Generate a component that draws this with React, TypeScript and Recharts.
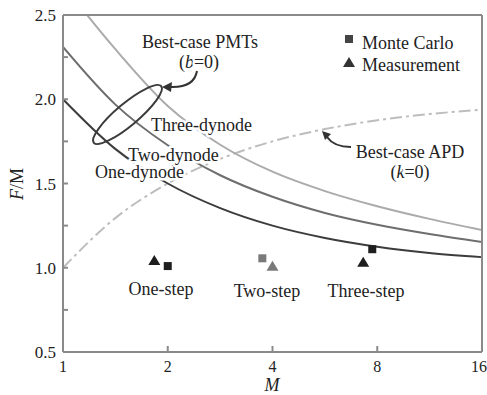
import { ComposedChart, Line, Scatter, XAxis, YAxis, Cell } from "recharts";

// x ticks (M, log2 spaced) and y ticks (F/M, with minor ticks)
const xTicks = [1, 2, 4, 8, 16];
const yTicks = [0.5, 0.75, 1.0, 1.25, 1.5, 1.75, 2.0, 2.25, 2.5];
const yLabels = [0.5, 1.0, 1.5, 2.0, 2.5];

const curveM = [1, 1.41, 2, 2.83, 4, 5.66, 8, 11.3, 16];
const oneDynodeF = [2.0, 1.707, 1.5, 1.354, 1.25, 1.177, 1.125, 1.088, 1.063];
const twoDynodeF = [2.31, 1.971, 1.727, 1.549, 1.421, 1.325, 1.255, 1.2, 1.153];
const threeDynodeF = [2.68, 2.3, 1.96, 1.73, 1.57, 1.455, 1.365, 1.29, 1.224];
const apdF = [1.0, 1.293, 1.5, 1.646, 1.75, 1.823, 1.875, 1.912, 1.938];

// markers
const monteCarloM = [2, 3.74, 7.74];
const monteCarloF = [1.01, 1.056, 1.11];
const measurementM = [1.83, 4, 7.29];
const measurementF = [1.04, 1.006, 1.03];
const markerColors = ["#1e1e1e", "#7a7a7a", "#1e1e1e"];

const zip = (ms: number[], fs: number[]) => ms.map((m, i) => ({ m, f: fs[i] }));

const FONT = "'Liberation Serif', 'DejaVu Serif', serif";
const AXIS = "#8a8a8a";
const FS = 18;
const TICK_FS = 16;

function XTick(props: any) {
  const { x, y, payload } = props;
  const v = payload.value;
  return (
    <g>
      {v !== 1 && v !== 16 && <line x1={x} y1={y} x2={x} y2={y - 6} stroke={AXIS} strokeWidth={2} />}
      <text x={v === 16 ? x - 3 : x} y={y + 20} textAnchor="middle" fontFamily={FONT} fontSize={TICK_FS} fill="#222">
        {v}
      </text>
    </g>
  );
}

function YTick(props: any) {
  const { x, y, payload } = props;
  const v = payload.value;
  const major = yLabels.includes(v);
  return (
    <g>
      {v !== 0.5 && v !== 2.5 && <line x1={x} y1={y} x2={x + 5} y2={y} stroke={AXIS} strokeWidth={2} />}
      {major && (
        <text x={x - 7} y={y + 6} textAnchor="end" fontFamily={FONT} fontSize={TICK_FS + 1} fill="#222">
          {v.toFixed(1)}
        </text>
      )}
    </g>
  );
}

const Square = (props: any) => {
  const { cx, cy, fill } = props;
  return <rect x={cx - 4} y={cy - 4} width={8} height={8} fill={fill} />;
};
const Tri = (props: any) => {
  const { cx, cy, fill } = props;
  return <polygon points={`${cx},${cy - 6} ${cx + 6},${cy + 4} ${cx - 6},${cy + 4}`} fill={fill} />;
};

function Label({ x, y, children, anchor = "start" }: any) {
  return (
    <text
      x={x}
      y={y}
      textAnchor={anchor}
      fontFamily={FONT}
      fontSize={FS}
      fill="#222"
      stroke="#fff"
      strokeWidth={5}
      strokeLinejoin="round"
      style={{ paintOrder: "stroke" }}
    >
      {children}
    </text>
  );
}

export default function App() {
  return (
    <div style={{ position: "absolute", left: 0, top: 0, width: 487, height: 395, background: "#fff" }}>
      <ComposedChart width={487} height={395} margin={{ top: 14, right: 4, bottom: 42, left: 62 }}>
        <XAxis
          xAxisId="b"
          type="number"
          dataKey="m"
          scale="log"
          domain={[1, 16]}
          ticks={xTicks}
          interval={0}
          allowDataOverflow
          height={1}
          tickSize={0}
          tickMargin={0}
          tickLine={false}
          axisLine={{ stroke: AXIS, strokeWidth: 2 }}
          tick={<XTick />}
        />
        <XAxis
          xAxisId="t"
          orientation="top"
          type="number"
          scale="log"
          domain={[1, 16]}
          height={1}
          tick={false}
          tickLine={false}
          axisLine={{ stroke: AXIS, strokeWidth: 2 }}
        />
        <YAxis
          yAxisId="l"
          type="number"
          domain={[0.5, 2.5]}
          ticks={yTicks}
          interval={0}
          allowDataOverflow
          width={1}
          tickSize={0}
          tickMargin={0}
          tickLine={false}
          axisLine={{ stroke: AXIS, strokeWidth: 2 }}
          tick={<YTick />}
        />
        <YAxis
          yAxisId="r"
          orientation="right"
          type="number"
          domain={[0.5, 2.5]}
          width={1}
          tick={false}
          tickLine={false}
          axisLine={{ stroke: AXIS, strokeWidth: 2 }}
        />
        <Line xAxisId="b" yAxisId="l" data={zip(curveM, apdF)} dataKey="f" type="monotone" stroke="#bdbdbd" strokeWidth={2} strokeDasharray="12 4 3 4" dot={false} isAnimationActive={false} />
        <Line xAxisId="b" yAxisId="l" data={zip(curveM, threeDynodeF)} dataKey="f" type="monotone" stroke="#ababab" strokeWidth={2} dot={false} isAnimationActive={false} />
        <Line xAxisId="b" yAxisId="l" data={zip(curveM, twoDynodeF)} dataKey="f" type="monotone" stroke="#6e6e6e" strokeWidth={2} dot={false} isAnimationActive={false} />
        <Line xAxisId="b" yAxisId="l" data={zip(curveM, oneDynodeF)} dataKey="f" type="monotone" stroke="#3c3c3c" strokeWidth={2} dot={false} isAnimationActive={false} />
        <Scatter xAxisId="b" yAxisId="l" data={zip(monteCarloM, monteCarloF)} dataKey="f" shape={Square} isAnimationActive={false}>
          {monteCarloM.map((_, i) => (
            <Cell key={i} fill={markerColors[i]} />
          ))}
        </Scatter>
        <Scatter xAxisId="b" yAxisId="l" data={zip(measurementM, measurementF)} dataKey="f" shape={Tri} isAnimationActive={false}>
          {measurementM.map((_, i) => (
            <Cell key={i} fill={markerColors[i]} />
          ))}
        </Scatter>
      </ComposedChart>
      <svg width={487} height={395} style={{ position: "absolute", left: 0, top: 0, pointerEvents: "none" }}>
        <Label x={95} y={178}>One-dynode</Label>
        <Label x={128} y={161}>Two-dynode</Label>
        <Label x={151} y={131}>Three-dynode</Label>
        <ellipse cx={127.5} cy={114.5} rx={44} ry={11} transform="rotate(-40 127.5 114.5)" fill="none" stroke="#3c3c3c" strokeWidth={2} />
        <Label x={200} y={48} anchor="middle">Best-case PMTs</Label>
        <Label x={199} y={68} anchor="middle">
          (<tspan fontStyle="italic">b</tspan>=0)
        </Label>
        <path d="M197,71 Q194,88 170,87" fill="none" stroke="#333" strokeWidth={2} />
        <polygon points="162,87 172,82 171,92" fill="#333" />
        <Label x={410} y={158} anchor="middle">Best-case APD</Label>
        <Label x={410} y={178} anchor="middle">
          (<tspan fontStyle="italic">k</tspan>=0)
        </Label>
        <path d="M351,147 Q334,147 327,137" fill="none" stroke="#333" strokeWidth={2} />
        <polygon points="322,131 331,134 325,140" fill="#333" />
        <rect x={345} y={35} width={8} height={8} fill="#444" />
        <Label x={362} y={49}>Monte Carlo</Label>
        <polygon points="349,57 355,67 343,67" fill="#333" />
        <Label x={362} y={71}>Measurement</Label>
        <Label x={161} y={295} anchor="middle">One-step</Label>
        <Label x={267} y={297} anchor="middle">Two-step</Label>
        <Label x={366} y={297} anchor="middle">Three-step</Label>
        <text x={272} y={391} textAnchor="middle" fontFamily={FONT} fontSize={FS} fontStyle="italic" fill="#222">M</text>
        <text transform="translate(23 184) rotate(-90)" textAnchor="middle" fontFamily={FONT} fontSize={FS} fill="#222">
          <tspan fontStyle="italic">F</tspan>/M
        </text>
      </svg>
    </div>
  );
}
